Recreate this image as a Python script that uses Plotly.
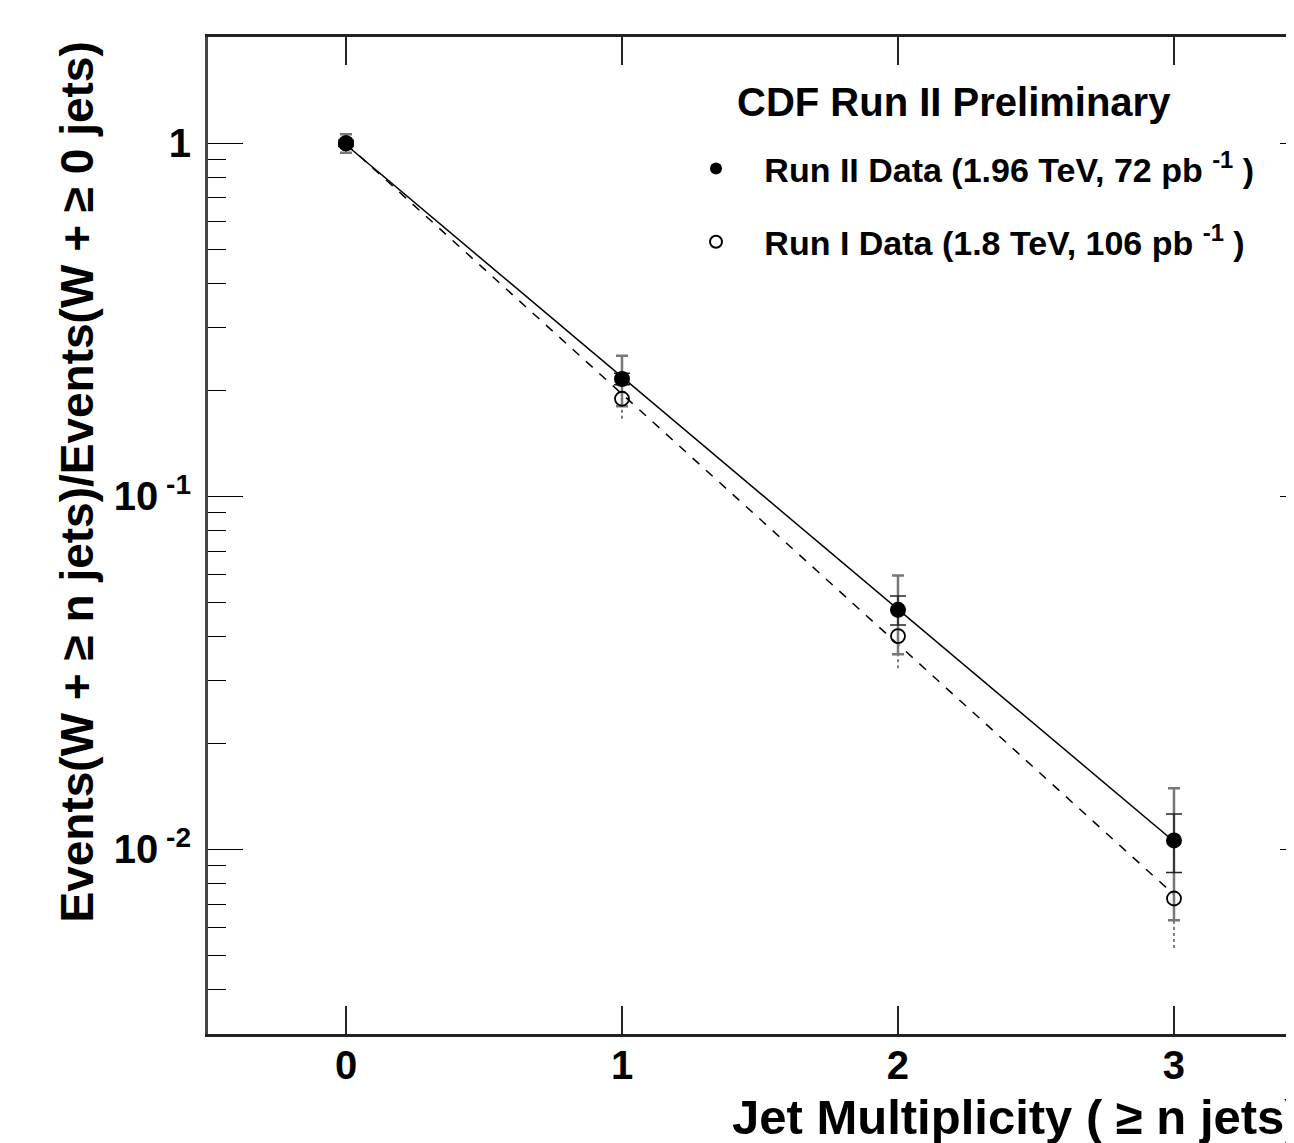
import numpy as np
import plotly.graph_objects as go

# ---------------- data ----------------
n_jets = [0, 1, 2, 3]
run2_vals = [1.0, 0.215, 0.0477, 0.0106]
run2_err_tot = [0.06, 0.035, 0.012, 0.0043]
run2_err_stat = [0.02, 0.008, 0.0045, 0.002]
run1_vals = [1.0, 0.189, 0.0402, 0.00726]
run1_err = [0.05, 0.023, 0.0076, 0.002]

x_ticks = [0, 1, 2, 3]
y_major = [0.01, 0.1, 1]
y_major_text = ["10<sup> -2</sup>", "10<sup> -1</sup>", "1"]
y_minor = [m * d for d in (0.001, 0.01, 0.1, 1) for m in range(2, 10)]

NB = "\u00a0"
run2_label = NB * 3 + "Run II Data (1.96 TeV, 72 pb <sup>-1</sup> )"
run1_label = NB * 3 + "Run I Data (1.8 TeV, 106 pb <sup>-1</sup> )"
legend_title = "CDF Run II Preliminary"
x_title = "Jet Multiplicity ( \u2265 n jets)"
y_title = "Events(W + \u2265 n jets)/Events(W + \u2265 0 jets)"

FONT = "Liberation Sans, Arial, sans-serif"
W, H = 1294, 1143
ML, MR, MT, MB = 200, 0, 29, 117
PW, PH = W - ML - MR, H - MT - MB


def px(fx):
    return (fx - ML) / PW


def py(fy):
    return (H - MB - fy) / PH


YR = [np.log10(0.003), np.log10(2.0)]
XR = [-0.5, 3.4638]

# exponential fits (straight lines on a log axis)
nx = np.array(n_jets, dtype=float)
b2, a2 = np.polyfit(nx, np.log10(run2_vals), 1)
b1, a1 = np.polyfit(nx, np.log10(run1_vals), 1)
fit2 = 10 ** (a2 + b2 * nx)
fit1 = 10 ** (a1 + b1 * nx)

fig = go.Figure()

fig.add_trace(go.Scatter(x=n_jets, y=fit1, mode="lines", showlegend=False,
                         line=dict(color="black", width=1.5, dash="dash"),
                         hoverinfo="skip"))
fig.add_trace(go.Scatter(x=n_jets, y=fit2, mode="lines", showlegend=False,
                         line=dict(color="black", width=1.5),
                         hoverinfo="skip"))

# Run I dashed error bars
ex, ey = [], []
for xi, v, e in zip(n_jets, run1_vals, run1_err):
    ex += [xi, xi, None]
    ey += [v - e, v + e, None]
fig.add_trace(go.Scatter(x=ex, y=ey, mode="lines", showlegend=False,
                         line=dict(color="#555555", width=1.5, dash="dot"),
                         hoverinfo="skip"))

# Run II total errors
fig.add_trace(go.Scatter(x=n_jets, y=run2_vals, mode="markers", showlegend=False,
                         marker=dict(size=1, color="rgba(0,0,0,0)"),
                         error_y=dict(type="data", array=run2_err_tot, visible=True,
                                      color="#777777", thickness=2.5, width=6),
                         hoverinfo="skip"))
# Run II stat errors
fig.add_trace(go.Scatter(x=n_jets, y=run2_vals, mode="markers", showlegend=False,
                         marker=dict(size=1, color="rgba(0,0,0,0)"),
                         error_y=dict(type="data", array=run2_err_stat, visible=True,
                                      color="#222222", thickness=1.5, width=8),
                         hoverinfo="skip"))

# points
fig.add_trace(go.Scatter(x=n_jets, y=run2_vals, mode="markers", name=run2_label,
                         legendgroup="a",
                         marker=dict(symbol="circle", size=16, color="black")))
fig.add_trace(go.Scatter(x=n_jets, y=run1_vals, mode="markers", name=run1_label,
                         legendgroup="b",
                         marker=dict(symbol="circle-open", size=14, color="black",
                                     line=dict(width=1.8, color="black"))))

# dummy traces so overlay axes render
fig.add_trace(go.Scatter(x=[None], y=[None], yaxis="y2", showlegend=False))
fig.add_trace(go.Scatter(x=[None], y=[None], yaxis="y3", showlegend=False))

fig.update_layout(
    width=W, height=H,
    margin=dict(l=ML, r=MR, t=MT, b=MB, pad=0),
    paper_bgcolor="white", plot_bgcolor="white",
    font=dict(family=FONT, color="black"),
    xaxis=dict(range=XR, tickvals=x_ticks, ticktext=[str(v) for v in x_ticks],
               ticks="inside", ticklen=28, tickwidth=1.5, tickcolor="#222222",
               showline=True, linewidth=2.5, linecolor="#222222", mirror="ticks",
               showgrid=False, zeroline=False, ticklabelstandoff=-6,
               tickfont=dict(size=40, family=FONT, weight="bold")),
    yaxis=dict(type="log", range=YR, tickvals=y_major, ticktext=y_major_text,
               ticks="inside", ticklen=35, tickwidth=1.2, tickcolor="black",
               showline=True, linewidth=3, linecolor="#444444", mirror=False,
               showgrid=False, zeroline=False, ticklabelstandoff=6,
               tickfont=dict(size=40, family=FONT, weight="bold")),
    yaxis2=dict(type="log", range=YR, overlaying="y", side="left", anchor="x",
                tickvals=y_minor, ticks="inside", ticklen=18, tickwidth=1.2,
                tickcolor="black", showticklabels=False, showgrid=False,
                showline=False, zeroline=False),
    yaxis3=dict(type="log", range=YR, overlaying="y", side="right", anchor="x",
                tickvals=y_major, ticks="inside", ticklen=22, tickwidth=1.2,
                tickcolor="black", showticklabels=False, showgrid=False,
                showline=False, zeroline=False),
    legend=dict(x=px(688), y=py(132), xanchor="left", yanchor="top",
                bgcolor="rgba(0,0,0,0)",
                font=dict(size=34, family=FONT, weight="bold"),
                tracegroupgap=26, itemsizing="constant"),
    annotations=[
        dict(text=legend_title, xref="paper", yref="paper",
             x=px(727), y=py(94), xanchor="left", yanchor="middle",
             showarrow=False, font=dict(size=40, family=FONT, weight="bold")),
        dict(text=y_title, textangle=-90, xref="paper", yref="paper",
             x=px(68), y=py(32), xanchor="center", yanchor="top",
             showarrow=False, font=dict(size=46, family=FONT, weight="bold")),
        dict(text=x_title, xref="paper", yref="paper",
             x=px(722), y=py(1109), xanchor="left", yanchor="middle",
             showarrow=False, font=dict(size=49, family=FONT, weight="bold")),
    ],
)

fig.write_html("out.html")
